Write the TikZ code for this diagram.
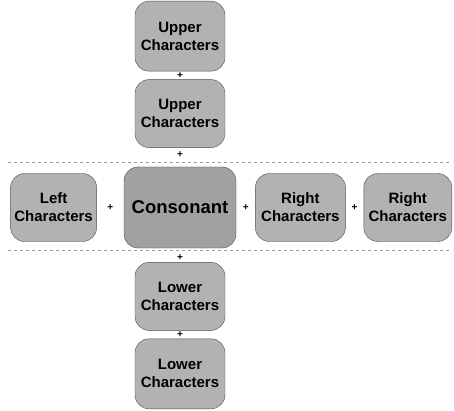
\documentclass[tikz,border=0pt]{standalone}
\usepackage{fontspec}
\setmainfont{Liberation Sans}
\usetikzlibrary{positioning,calc}
\tikzset{part/.style={draw=black!70,fill=black!30,rounded corners=14pt,minimum width=90pt,minimum height=68pt,inner sep=2pt,align=center,font=\fontsize{15}{18}\selectfont\bfseries},
         core/.style={part,fill=black!37,minimum width=112pt,minimum height=81pt,font=\fontsize{18.5}{22}\selectfont\bfseries},
         plus/.style={inner sep=0pt,font=\fontsize{10}{10}\selectfont\bfseries},
         divider/.style={dashed,black!40,thin}
}

\begin{document}
\begin{tikzpicture}[x=1pt,y=1pt]
\useasboundingbox (0,0) rectangle (454,-411);

\node[core] (cons) at (180,-207.5) {Consonant};
\node[part,above=19pt of cons] (up2) {Upper\\Characters};
\node[part,above=8pt of up2,minimum height=70pt] (up1) {Upper\\Characters};
\node[part,below=14pt of cons] (low1) {Lower\\Characters};
\node[part,below=8pt of low1,minimum height=70pt] (low2) {Lower\\Characters};
\node[part,left=27pt of cons,minimum width=86pt] (left) {Left\\Characters};
\node[part,right=19pt of cons] (right1) {Right\\Characters};
\node[part,right=18pt of right1,minimum width=88pt] (right2) {Right\\Characters};

% plus signs
\node[plus] (p1) at ($(up1.south)!0.5!(up2.north)$) {+};
\node[plus] (p2) at ($(up2.south)+(0,-7)$) {+};
\node[plus] (p3) at ($(left.east)!0.5!(cons.west)$) {+};
\node[plus] (p4) at ($(cons.east)!0.5!(right1.west)$) {+};
\node[plus] (p5) at ($(right1.east)!0.5!(right2.west)$) {+};
\node[plus] (p6) at ($(low1.north)+(0,5)$) {+};
\node[plus] (p7) at ($(low1.south)!0.5!(low2.north)$) {+};

% dividers
\coordinate (dtl) at (8,-162);
\coordinate (dtr) at (450,-162);
\coordinate (dbl) at (8,-250);
\coordinate (dbr) at (450,-250);
\draw[divider] (dtl)--(dtr);
\draw[divider] (dbl)--(dbr);

\end{tikzpicture}
\end{document}
